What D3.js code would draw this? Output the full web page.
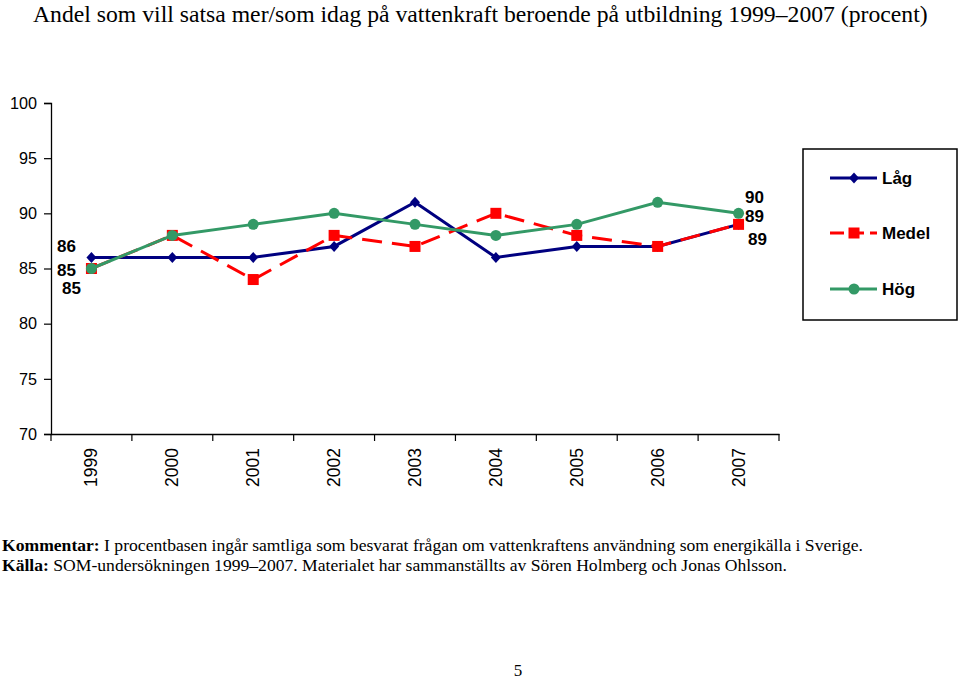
<!DOCTYPE html>
<html><head><meta charset="utf-8">
<script src="https://cdn.jsdelivr.net/npm/d3@7"></script>
<style>body{margin:0;background:#fff;} svg{display:block;}</style>
</head><body>
<svg id="c" width="960" height="681"></svg>
<script>
const years = ["1999","2000","2001","2002","2003","2004","2005","2006","2007"];
const lag   = [86, 86, 86, 87, 91, 86, 87, 87, 89];
const medel = [85, 88, 84, 88, 87, 90, 88, 87, 89];
const hog   = [85, 88, 89, 90, 89, 88, 89, 91, 90];
const yTicks = [70, 75, 80, 85, 90, 95, 100];
const seriesNames = ["Låg", "Medel", "Hög"];

const svg = d3.select("#c");
const x = d3.scaleBand().domain(years).range([51, 779]);
const y = d3.scaleLinear().domain([70, 100]).range([434, 103]);

svg.append("text").attr("x", 33).attr("y", 22)
  .attr("font-family", "Liberation Serif, Times New Roman, serif").attr("font-size", 23.7)
  .text("Andel som vill satsa mer/som idag på vattenkraft beroende på utbildning 1999–2007 (procent)");

const yAxis = svg.append("g").attr("transform", "translate(51,0)")
  .call(d3.axisLeft(y).tickValues(yTicks).tickSize(7).tickPadding(7));
yAxis.select(".domain").attr("stroke", "#000").attr("stroke-width", 1.3);
yAxis.selectAll(".tick line").attr("stroke-width", 1.2);
yAxis.selectAll("text").attr("font-family", "Liberation Sans, Arial, sans-serif").attr("font-size", 16.2).attr("fill", "#000");

const xAxis = svg.append("g").attr("transform", "translate(0,434)")
  .call(d3.axisBottom(x).tickSize(0).tickFormat(""));
xAxis.select(".domain").attr("stroke", "#000").attr("stroke-width", 1.3);
const bounds = years.map(d => x(d)).concat([x(years[years.length-1]) + x.bandwidth()]);
svg.append("g").selectAll("line").data(bounds).join("line")
  .attr("x1", d => d).attr("x2", d => d).attr("y1", 434).attr("y2", 441)
  .attr("stroke", "#000").attr("stroke-width", 1.2);
svg.append("g").selectAll("text").data(years).join("text")
  .attr("transform", d => `translate(${x(d) + x.bandwidth()/2 + 6},448) rotate(-90)`)
  .attr("text-anchor", "end")
  .attr("font-family", "Liberation Sans, Arial, sans-serif").attr("font-size", 17.5)
  .text(d => d);

const cx = d => x(d) + x.bandwidth()/2;
const line = d3.line().x((v, i) => cx(years[i])).y(v => y(v));

const cfg = [
  {data: lag, color: "#000080", dash: null, marker: "diamond"},
  {data: medel, color: "#FF0000", dash: "20,10", marker: "square"},
  {data: hog, color: "#339966", dash: null, marker: "circle"}
];

function drawMarker(g, type, color, px, py) {
  if (type === "diamond") {
    g.append("path").attr("d", `M${px},${py-5.5}L${px+5},${py}L${px},${py+5.5}L${px-5},${py}Z`).attr("fill", color);
  } else if (type === "square") {
    g.append("rect").attr("x", px-5.5).attr("y", py-5.5).attr("width", 11).attr("height", 11).attr("fill", color);
  } else {
    g.append("circle").attr("cx", px).attr("cy", py).attr("r", 5.5).attr("fill", color);
  }
}

cfg.forEach(s => {
  const g = svg.append("g");
  g.append("path").datum(s.data).attr("d", line).attr("fill", "none")
    .attr("stroke", s.color).attr("stroke-width", 3)
    .attr("stroke-dasharray", s.dash);
  s.data.forEach((v, i) => drawMarker(g, s.marker, s.color, cx(years[i]), y(v)));
});

const lf = "Liberation Sans, Arial, sans-serif";
const labels = [
  {t: lag[0], x: 57, y: y(lag[0]) - 5},
  {t: medel[0], x: 57, y: y(medel[0]) + 7},
  {t: hog[0], x: 62, y: y(hog[0]) + 25},
  {t: hog[8], x: 745, y: y(hog[8]) - 10},
  {t: medel[8], x: 745, y: y(medel[8]) - 2},
  {t: lag[8], x: 748, y: y(lag[8]) + 21}
];
svg.append("g").selectAll("text").data(labels).join("text")
  .attr("x", d => d.x).attr("y", d => d.y)
  .attr("font-family", lf).attr("font-size", 17).attr("font-weight", "bold")
  .text(d => d.t);

const lg = svg.append("g");
lg.append("rect").attr("x", 803).attr("y", 149).attr("width", 154).attr("height", 171)
  .attr("fill", "#fff").attr("stroke", "#000").attr("stroke-width", 1.5);
const ly = [178, 233, 289];
cfg.forEach((s, i) => {
  lg.append("line").attr("x1", 830).attr("x2", 877).attr("y1", ly[i]).attr("y2", ly[i])
    .attr("stroke", s.color).attr("stroke-width", 3)
    .attr("stroke-dasharray", s.dash ? "14,6" : null);
  drawMarker(lg, s.marker, s.color, 854, ly[i]);
  lg.append("text").attr("x", 882).attr("y", ly[i] + 6)
    .attr("font-family", lf).attr("font-size", 17).attr("font-weight", "bold")
    .text(seriesNames[i]);
});

const sf = "Liberation Serif, Times New Roman, serif";
const f1 = svg.append("text").attr("x", 2).attr("y", 551).attr("font-family", sf).attr("font-size", 17.6);
f1.append("tspan").attr("font-weight", "bold").text("Kommentar:");
f1.append("tspan").text(" I procentbasen ingår samtliga som besvarat frågan om vattenkraftens användning som energikälla i Sverige.");
const f2 = svg.append("text").attr("x", 2).attr("y", 571).attr("font-family", sf).attr("font-size", 17.6);
f2.append("tspan").attr("font-weight", "bold").text("Källa:");
f2.append("tspan").text(" SOM-undersökningen 1999–2007. Materialet har sammanställts av Sören Holmberg och Jonas Ohlsson.");
svg.append("text").attr("x", 518).attr("y", 676).attr("text-anchor", "middle")
  .attr("font-family", sf).attr("font-size", 17).text("5");
</script>
</body></html>
